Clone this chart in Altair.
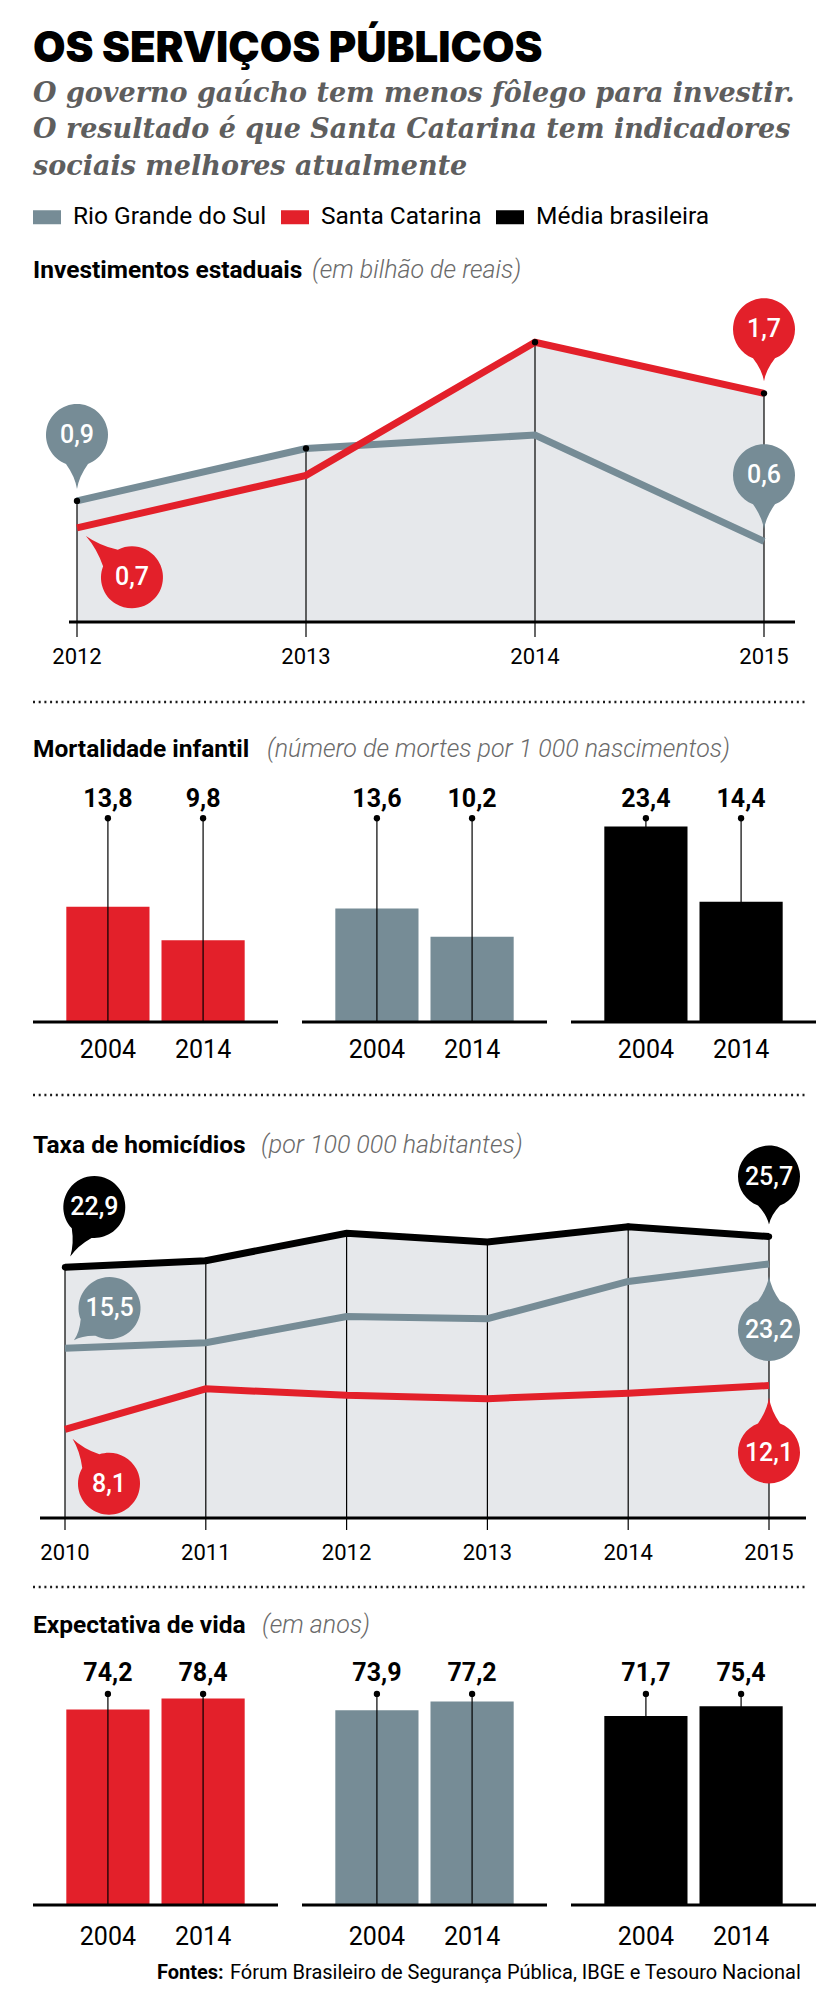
import math
import altair as alt
import pandas as pd

# ---------------- data ----------------
SERIES = ["Rio Grande do Sul", "Santa Catarina", "Média brasileira"]
COLORS = ["#768c96", "#e3202a", "#000000"]

TITLE = "OS SERVIÇOS PÚBLICOS"
SUBTITLE = [
    "O governo gaúcho tem menos fôlego para investir.",
    "O resultado é que Santa Catarina tem indicadores",
    "sociais melhores atualmente",
]
H_INV = ["Investimentos estaduais", "(em bilhão de reais)"]
H_MORT = ["Mortalidade infantil", "(número de mortes por 1 000 nascimentos)"]
H_HOM = ["Taxa de homicídios", "(por 100 000 habitantes)"]
H_LIFE = ["Expectativa de vida", "(em anos)"]
SOURCE = ["Fontes:", "Fórum Brasileiro de Segurança Pública, IBGE e Tesouro Nacional"]

INV_YEARS = [2012, 2013, 2014, 2015]
INV_RS = [0.9, 1.29, 1.39, 0.6]
INV_SC = [0.7, 1.09, 2.08, 1.7]

HOM_YEARS = [2010, 2011, 2012, 2013, 2014, 2015]
HOM_BR = [22.9, 23.5, 26.0, 25.2, 26.6, 25.7]
HOM_RS = [15.5, 16.0, 18.4, 18.2, 21.6, 23.2]
HOM_SC = [8.1, 11.8, 11.2, 10.9, 11.4, 12.1]

BAR_YEARS = ["2004", "2014"]
MORT_SC = [13.8, 9.8]
MORT_RS = [13.6, 10.2]
MORT_BR = [23.4, 14.4]
LIFE_SC = [74.2, 78.4]
LIFE_RS = [73.9, 77.2]
LIFE_BR = [71.7, 75.4]

# ---------------- style ----------------
FILL = "#e6e8eb"
SANS = "Roboto, Liberation Sans, sans-serif"
SERIF = "DejaVu Serif, Liberation Serif, serif"
HEAVY = "Inter, Roboto, Liberation Sans, sans-serif"
W = 775
ONE = pd.DataFrame({"k": [0]})
COLOR_OF = dict(zip(SERIES, COLORS))


def fmt(v):
    return f"{v:.1f}".replace(".", ",")


def text_at(text, x, y, size, weight="normal", style="normal", color="black",
            font=SANS, align="left", baseline="alphabetic"):
    return alt.Chart(pd.DataFrame({"t": [text]})).mark_text(
        font=font, fontSize=size, fontWeight=weight, fontStyle=style,
        color=color, align=align, baseline=baseline,
    ).encode(text="t:N", x=alt.value(x), y=alt.value(y))


def dotted(y):
    return alt.Chart(ONE).mark_rule(color="#1a1a1a", strokeWidth=2.4, strokeDash=[2, 3.7]).encode(
        x=alt.value(0), x2=alt.value(W), y=alt.value(y))


def heading(parts, x2, y):
    return [
        text_at(parts[0], 0, y, 24.5, weight="bold"),
        text_at(parts[1], x2, y, 25, weight=300, style="italic", color="#6a6a6a"),
    ]


def pin_path(c, r=31, tip=12, half=11):
    yb = -c + math.sqrt(r * r - half * half)
    cy = (yb - tip) / 2
    return (f"M {half},{yb:.2f} A {r},{r} 0 1,0 {-half},{yb:.2f} "
            f"Q -2,{cy:.2f} 0,{-tip} Q 2,{cy:.2f} {half},{yb:.2f} Z")


def bubble(year, value, color, angle, dist, X, Y):
    d = pd.DataFrame({"year": [year], "value": [value], "label": [fmt(value)]})
    a = math.radians(angle)
    pin = alt.Chart(d).mark_point(
        shape=pin_path(dist), size=4, angle=angle, filled=True, color=color,
        fill=color, strokeWidth=0, opacity=1,
    ).encode(x=X, y=Y)
    txt = alt.Chart(d).mark_text(
        font=SANS, fontSize=25, fontWeight=500, color="white", align="center", baseline="middle",
        dx=dist * math.sin(a), dy=-dist * math.cos(a),
    ).encode(x=X, y=Y, text="label:N")
    return [pin, txt]


def line_section(df, years, x_range, base_y, k, height, baseline_x, tick, year_y,
                 head, head_x2, head_y, bubbles, dotted_y=None):
    xs = alt.Scale(domain=[years[0], years[-1]], range=x_range, nice=False, zero=False)
    ys = alt.Scale(domain=[0, base_y / k], range=[base_y, 0], nice=False, zero=False)
    X = alt.X("year:Q", scale=xs, axis=None)
    Y = alt.Y("value:Q", scale=ys, axis=None, stack=None)
    TOP = alt.Y("top:Q", scale=ys, axis=None)
    color = alt.Color("series:N", scale=alt.Scale(domain=SERIES, range=COLORS), legend=None)
    base = alt.Chart(df)
    tops = base.transform_aggregate(top="max(value)", groupby=["year"])
    layers = []
    if dotted_y is not None:
        layers.append(dotted(dotted_y))
    layers += heading(head, head_x2, head_y)
    layers += [
        base.mark_area(color=FILL, opacity=1).encode(x=X, y=Y, detail="series:N"),
        tops.mark_rule(color="black", strokeWidth=1.2).encode(x=X, y=TOP, y2=alt.value(base_y + tick)),
        alt.Chart(ONE).mark_rule(color="black", strokeWidth=3).encode(
            x=alt.value(baseline_x[0]), x2=alt.value(baseline_x[1]), y=alt.value(base_y)),
        base.mark_line(strokeWidth=7).encode(x=X, y=Y, color=color),
        tops.mark_circle(color="black", size=40, opacity=1).encode(x=X, y=TOP),
        alt.Chart(pd.DataFrame({"year": years})).mark_text(
            font=SANS, fontSize=22, baseline="middle", color="black",
        ).encode(x=X, y=alt.value(year_y), text=alt.Text("year:Q", format="d")),
    ]
    for (series, yi, angle, dist) in bubbles:
        vals = df[df["series"] == series]["value"].tolist()
        layers += bubble(years[yi], vals[yi], COLOR_OF[series], angle, dist, X, Y)
    return alt.layer(*layers).properties(width=W, height=height)


def bar_panel(values, color, dot, k, base_y, height, label_dy, year_y):
    d = pd.DataFrame({"year": BAR_YEARS, "value": values, "label": [fmt(v) for v in values]})
    xs = alt.Scale(domain=BAR_YEARS, range=[0, 245], paddingInner=0.126, paddingOuter=0.35)
    X = alt.X("year:N", scale=xs, axis=None)
    ys = alt.Scale(domain=[0, base_y / k], range=[base_y, 0], nice=False, zero=False)
    Y = alt.Y("value:Q", scale=ys, axis=None)
    c = alt.Chart(d)
    return alt.layer(
        c.mark_bar(color=color).encode(x=X, y=Y),
        alt.Chart(ONE).mark_rule(color="black", strokeWidth=3).encode(
            x=alt.value(0), x2=alt.value(245), y=alt.value(base_y)),
        c.mark_rule(color="black", strokeWidth=1.2).encode(x=X, y=alt.datum(dot), y2=alt.datum(0)),
        c.mark_circle(color="black", size=40, opacity=1).encode(x=X, y=alt.datum(dot)),
        c.mark_text(font=SANS, fontSize=25, fontWeight="bold", dy=label_dy,
                    baseline="alphabetic", color="black").encode(x=X, y=alt.datum(dot), text="label:N"),
        c.mark_text(font=SANS, fontSize=25, baseline="middle", color="black").encode(
            x=X, y=alt.value(year_y), text="year:N"),
    ).properties(width=245, height=height)


# ---------------- header ----------------
legend_layer = alt.Chart(pd.DataFrame({"series": SERIES})).mark_square(size=0, opacity=0).encode(
    color=alt.Color("series:N", scale=alt.Scale(domain=SERIES, range=COLORS),
                    legend=alt.Legend(
                        orient="none", legendX=0, legendY=195, direction="horizontal",
                        title=None, symbolType="M -1,-0.5 H 1 V 0.5 H -1 Z", symbolSize=784,
                        symbolOpacity=1, symbolStrokeWidth=0, labelFont=SANS, labelFontSize=24.5,
                        labelColor="black", labelOffset=12, columnPadding=14, labelLimit=400,
                    )))
header_layers = [text_at(TITLE, 0, 54, 42, weight=900, font=HEAVY)]
for i, line in enumerate(SUBTITLE):
    header_layers.append(text_at(line, 0, [94, 130, 167][i], 27, weight="bold", style="italic",
                                 color="#5e5e5e", font=SERIF))
header_layers.append(legend_layer)
header = alt.layer(*header_layers).properties(width=W, height=232)

# ---------------- investment ----------------
inv = pd.DataFrame({
    "year": INV_YEARS * 2,
    "value": INV_RS + INV_SC,
    "series": [SERIES[0]] * len(INV_YEARS) + [SERIES[1]] * len(INV_YEARS),
})
inv_chart = line_section(
    inv, INV_YEARS, [44, 731], 382, 134.5, 450, (36, 762), 15, 417,
    H_INV, 279, 38,
    [(SERIES[0], 0, 0, 66), (SERIES[1], 0, 132, 74), (SERIES[1], 3, 0, 64), (SERIES[0], 3, 0, 66)],
)

# ---------------- mortality ----------------
mort_head = alt.layer(dotted(12), *heading(H_MORT, 234, 67)).properties(width=W, height=85)
mort_panels = alt.hconcat(
    bar_panel(MORT_SC, COLORS[1], 24.4, 8.35, 247, 310, -11, 275),
    bar_panel(MORT_RS, COLORS[0], 24.4, 8.35, 247, 310, -11, 275),
    bar_panel(MORT_BR, COLORS[2], 24.4, 8.35, 247, 310, -11, 275),
    spacing=20,
)

# ---------------- homicides ----------------
hom = pd.DataFrame({
    "year": HOM_YEARS * 3,
    "value": HOM_BR + HOM_RS + HOM_SC,
    "series": [SERIES[2]] * 6 + [SERIES[0]] * 6 + [SERIES[1]] * 6,
})
hom_chart = line_section(
    hom, HOM_YEARS, [32, 736], 433, 10.95, 490, (7, 773), 12, 468,
    H_HOM, 228, 68,
    [(SERIES[2], 0, 26, 67), (SERIES[0], 0, 48, 60), (SERIES[1], 0, 141, 70),
     (SERIES[2], 5, 0, 60), (SERIES[0], 5, 180, 66), (SERIES[1], 5, 180, 67)],
    dotted_y=10,
)

# ---------------- life expectancy ----------------
life_head = alt.layer(dotted(12), *heading(H_LIFE, 229, 58)).properties(width=W, height=70)
life_panels = alt.hconcat(
    bar_panel(LIFE_SC, COLORS[1], 80.1, 2.635, 260, 310, -13, 292),
    bar_panel(LIFE_RS, COLORS[0], 80.1, 2.635, 260, 310, -13, 292),
    bar_panel(LIFE_BR, COLORS[2], 80.1, 2.635, 260, 310, -13, 292),
    spacing=20,
)

footer = alt.layer(
    text_at(SOURCE[0], 124, 18, 20, weight="bold", baseline="middle"),
    text_at(SOURCE[1], 197, 18, 20, baseline="middle"),
).properties(width=W, height=40)

chart = alt.vconcat(
    header, inv_chart, mort_head, mort_panels, hom_chart, life_head, life_panels, footer,
    spacing=0,
).properties(
    padding={"left": 23, "top": 0, "right": 0, "bottom": 0},
    background="white",
).configure_view(stroke=None)

chart.save("out.html", embed_options={"renderer": "svg", "actions": False})
